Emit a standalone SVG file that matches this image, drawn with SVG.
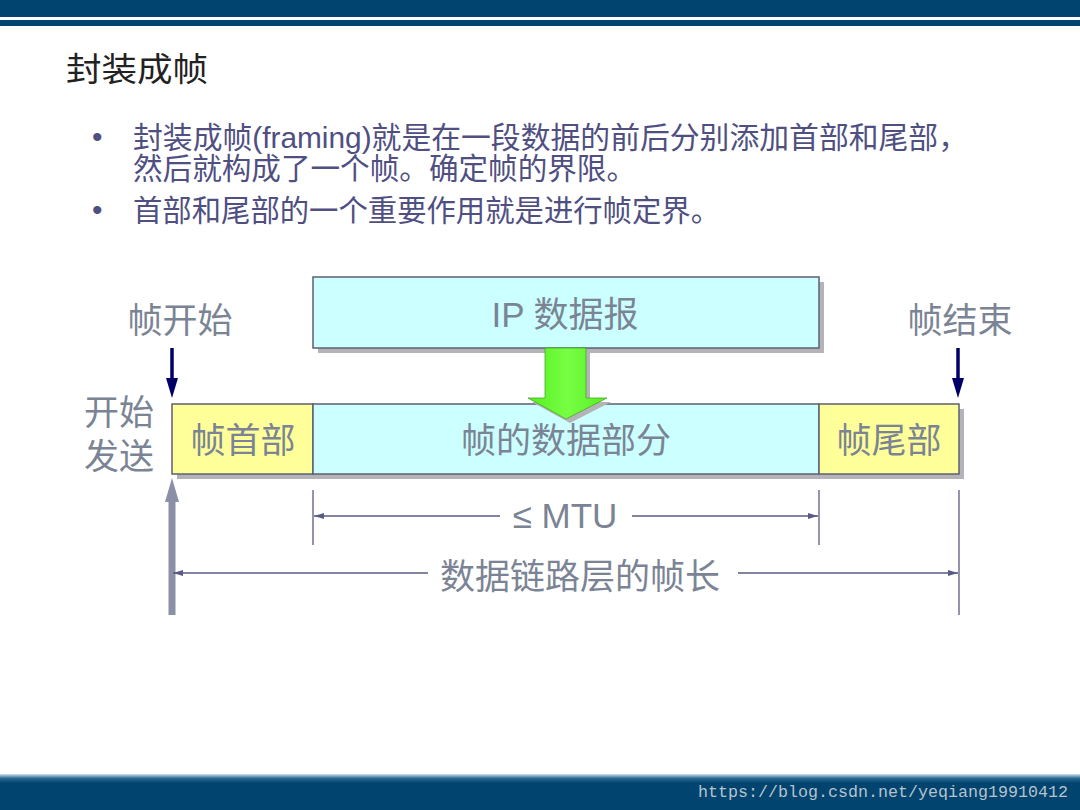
<svg xmlns="http://www.w3.org/2000/svg" width="1080" height="810" viewBox="0 0 1080 810">
<defs>
<style>
.lbl{font-family:"Liberation Sans","Noto Sans CJK SC",sans-serif;fill:#7b8494;text-anchor:middle;font-size:35px}
.bul{font-family:"Liberation Sans","Noto Sans CJK SC",sans-serif;fill:#4f4f82;font-size:30px}
.box{stroke:#5c6070;stroke-width:1.5}
.shadow{fill:#b4b4b8}
.dim{stroke:#5a5a86;stroke-width:1.3;fill:none}
</style>
<marker id="dimArrow" viewBox="0 0 10 6" refX="10" refY="3" markerWidth="10" markerHeight="6" markerUnits="userSpaceOnUse" orient="auto">
<path d="M0,0 L10,3 L0,6 Z" fill="#5a5a86"/>
</marker>
<linearGradient id="greenG" x1="0" y1="0" x2="1" y2="0">
<stop offset="0" stop-color="#55ee22"/>
<stop offset="0.5" stop-color="#77ff44"/>
<stop offset="1" stop-color="#55ee22"/>
</linearGradient>
<linearGradient id="botG" x1="0" y1="0" x2="0" y2="1">
<stop offset="0" stop-color="#cfe3ee"/>
<stop offset="0.12" stop-color="#2a6a93"/>
<stop offset="0.25" stop-color="#00446f"/>
<stop offset="1" stop-color="#00446f"/>
</linearGradient>
</defs>
<rect width="1080" height="810" fill="#ffffff"/>
<!-- header bands -->
<rect x="0" y="0" width="1080" height="17" fill="#00446f"/>
<rect x="0" y="20" width="1080" height="6" fill="#00446f"/>
<!-- footer band -->
<rect x="0" y="774" width="1080" height="36" fill="url(#botG)"/>
<text x="698" y="797" font-family="Liberation Mono, monospace" font-size="16" fill="#b8c2cc" textLength="370" lengthAdjust="spacingAndGlyphs">https://blog.csdn.net/yeqiang19910412</text>

<!-- title -->
<text x="66" y="81" font-family="Liberation Sans, Noto Sans CJK SC, sans-serif" font-size="33" fill="#222222" textLength="142" lengthAdjust="spacingAndGlyphs">封装成帧</text>
<!-- bullets -->
<g id="bullets">
<text class="bul" x="92" y="147" font-size="22">•</text>
<text class="bul" x="133" y="148" textLength="835" lengthAdjust="spacingAndGlyphs">封装成帧(framing)就是在一段数据的前后分别添加首部和尾部，</text>
<text class="bul" x="133" y="179" textLength="503" lengthAdjust="spacingAndGlyphs">然后就构成了一个帧。确定帧的界限。</text>
<text class="bul" x="92" y="220" font-size="22">•</text>
<text class="bul" x="133" y="221" textLength="587" lengthAdjust="spacingAndGlyphs">首部和尾部的一个重要作用就是进行帧定界。</text>
</g>

<!-- IP datagram -->
<g id="ip">
<rect class="shadow" x="318" y="282" width="506" height="71"/>
<rect class="box" x="313" y="277" width="506" height="71" fill="#ccffff"/>
<text class="lbl" x="565" y="327">IP 数据报</text>
</g>

<!-- frame row shadows -->
<rect class="shadow" x="177" y="409" width="787" height="70"/>
<g id="head">
<rect class="box" x="172" y="404" width="141" height="70" fill="#ffff99"/>
<text class="lbl" x="243" y="453">帧首部</text>
</g>
<g id="data">
<rect class="box" x="313" y="404" width="506" height="70" fill="#ccffff"/>
<text class="lbl" x="566" y="453">帧的数据部分</text>
</g>
<g id="tail">
<rect class="box" x="819" y="404" width="140" height="70" fill="#ffff99"/>
<text class="lbl" x="889" y="453">帧尾部</text>
</g>

<!-- green arrow -->
<g id="green">
<path d="M549,352 L590,352 L590,402 L611,402 L570,423 L532,402 L549,402 Z" fill="#b4b4b8"/>
<path d="M545,348 L586,348 L586,398 L607,398 L566,419 L528,398 L545,398 Z" fill="url(#greenG)" stroke="#44aa22" stroke-width="0.8"/>
</g>

<!-- labels -->
<g id="labels">
<text class="lbl" x="180" y="333">帧开始</text>
<text class="lbl" x="960" y="333">帧结束</text>
<text class="lbl" x="119" y="425">开始</text>
<text class="lbl" x="119" y="469">发送</text>
</g>

<!-- connectors -->
<g id="connectors">
<line x1="172" y1="348" x2="172" y2="380" stroke="#000066" stroke-width="3.5"/>
<path d="M166,378 L178,378 L172,398 Z" fill="#000066"/>
<line x1="958" y1="348" x2="958" y2="380" stroke="#000066" stroke-width="3.5"/>
<path d="M952,378 L964,378 L958,398 Z" fill="#000066"/>
<line x1="172" y1="615" x2="172" y2="500" stroke="#8a90a6" stroke-width="7"/>
<path d="M165,502 L179,502 L172,478 Z" fill="#8a90a6"/>
<line class="dim" x1="313" y1="490" x2="313" y2="545"/>
<line class="dim" x1="819" y1="490" x2="819" y2="545"/>
<line class="dim" x1="959" y1="490" x2="959" y2="615"/>
<line class="dim" x1="500" y1="516" x2="314" y2="516" marker-end="url(#dimArrow)"/>
<line class="dim" x1="632" y1="516" x2="818" y2="516" marker-end="url(#dimArrow)"/>
<line class="dim" x1="428" y1="573" x2="173" y2="573" marker-end="url(#dimArrow)"/>
<line class="dim" x1="738" y1="573" x2="958" y2="573" marker-end="url(#dimArrow)"/>
</g>
<text class="lbl" x="565" y="528">≤ MTU</text>
<text class="lbl" x="580" y="589">数据链路层的帧长</text>
</svg>
